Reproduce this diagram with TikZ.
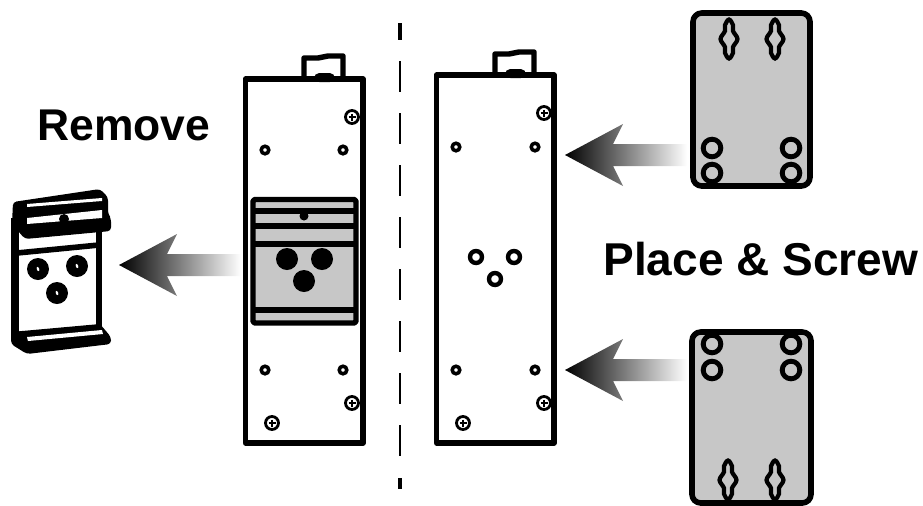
\documentclass[tikz,border=0pt]{standalone}
\usepackage{fontspec}
\setmainfont{Liberation Sans}
\definecolor{plategray}{gray}{0.78}
\tikzset{
  outline/.style={draw=black,line width=3.1pt,line join=round},
  plate/.style={outline,fill=plategray,rounded corners=5pt,line width=3.2pt},
  holemark/.style={draw=black,line width=2pt,fill=white},
  platehole/.style={draw=black,line width=2.8pt},
  slotline/.style={draw=black,line width=2.4pt},
  screwmark/.style={draw=black,line width=1.6pt},
  title/.style={font=\bfseries,inner sep=0pt,anchor=base west},
  divider/.style={draw=black,line width=1.7pt},
  fadearrow/.style={left color=black,middle color=black!82,right color=white,draw=none}
}
\newcommand{\fadingarrow}[2]{% tip x, tip y
  \path[fadearrow,shift={(#1,#2)}] (0,0) -- (58,-31) -- (48,-11) -- (122,-11) -- (122,11) -- (48,11) -- (58,31) -- cycle;
}
\begin{document}
\begin{tikzpicture}[x=0.02cm,y=-0.02cm]
    \useasboundingbox (0,0) rectangle (923,505);

    % Divider
    \draw[divider,line width=2.4pt] (400,23) -- (400,40);
    \foreach \y in {61,113,165,217,269,321,373,425} {
        \draw[divider] (400,\y) -- (400,\y+31);
    }
    \draw[divider,line width=2.4pt] (400,478) -- (400,489);

    % Clips on top of the devices
    \foreach \x/\y in {0/4, 191/0} {
        \draw[outline] (\x+304,\y+75) -- (\x+304,\y+54) -- (\x+318,\y+54) -- (\x+328,\y+52) -- (\x+343,\y+52) -- (\x+343,\y+75);
        \fill[rounded corners=3pt] (\x+314,\y+78) -- (\x+314,\y+69) -- (\x+335,\y+69) -- (\x+335,\y+78) -- cycle;
    }

    % Devices
    \draw[outline] (245.5,79) rectangle (363,443);
    \draw[outline] (436.5,75) rectangle (554,443);

    % Mounting holes
    \foreach \x/\y in {265/150, 343/150, 265/370, 343/370, 456/147, 535/147, 456/370, 535/370} {
        \draw[holemark] (\x,\y) circle (3.8);
    }

    % Screws
    \foreach \x/\y in {352/117, 352/403, 272/423, 544/113, 544/403, 463/423} {
        \draw[screwmark] (\x,\y) circle (6.5);
        \draw[screwmark] (\x-3.5,\y) -- (\x+3.5,\y) (\x,\y-3.5) -- (\x,\y+3.5);
    }

    % Rail on the left device
    \draw[outline,fill=plategray,line width=3.1pt,rounded corners=1pt] (253,199.5) rectangle (356,323);
    \foreach \y in {211,226,244,310} {
        \draw[line width=3pt] (253,\y) -- (356,\y);
    }
    \fill (304,216) circle (4.5);
    \foreach \x/\y in {287/259, 322/259, 304/281} {
        \fill (\x,\y) circle (11);
    }

    % Three holes on the right device
    \foreach \x/\y in {476/257, 514/257, 495/279} {
        \draw[line width=2.5pt] (\x,\y) circle (6);
    }

    % Removed rail
    \draw[outline,line width=4pt] (15,218) -- (15,340);
    \draw[outline,line width=3.2pt] (99,225) -- (99,328);
    \fill[rounded corners=2pt] (13,202) -- (100,189) -- (108,197) -- (108,214) -- (111,218) -- (111,231) -- (25,239) -- (12,224) -- cycle;
    \fill[white] (27,204) -- (102,198) -- (102,201) -- (27,207) -- cycle;
    \fill[white] (27,218) -- (102,210) -- (102,218) -- (27,224) -- cycle;
    \fill (64,219) circle (5);
    \draw[line width=3.2pt] (17,253) -- (99,245);
    \foreach \x/\y in {38/269, 77/266, 57/293} {
        \fill (\x,\y) circle (11);
        \fill[white,rotate around={20:(\x,\y)}] (\x,\y) ellipse (1.2 and 2.2);
    }
    \fill[rounded corners=2pt] (11,332) -- (100,324) -- (111,337) -- (111,344) -- (27,354) -- (11,344) -- cycle;
    \fill[white] (27,337) -- (102,330) -- (103,334) -- (28,341) -- cycle;

    % Plates
    \draw[plate] (693,13) rectangle (810,186);
    \draw[plate] (692,332) rectangle (811,503);
    \foreach \x/\y in {712/148, 712/173, 791/148, 791/173, 712/344, 712/370, 791/344, 791/370} {
        \draw[platehole] (\x,\y) circle (8.8);
    }
    \foreach \x/\y in {729/39, 775/39, 728/480, 775/480} {
        \draw[slotline,shift={(\x,\y)}] plot[smooth cycle,tension=0.6] coordinates {(-4,-14) (0,-19.5) (4,-14) (4,-8) (8.5,0) (4,8) (4,14) (0,19.5) (-4,14) (-4,8) (-8.5,0) (-4,-8)};
    }

    % Arrows
    \fadingarrow{119}{265}
    \fadingarrow{565}{155}
    \fadingarrow{565}{370}

    % Labels
    \node[title,font=\bfseries\fontsize{25.3}{30}\selectfont] (remove) at (37,140) {Remove};
    \node[title,font=\bfseries\fontsize{26.2}{30}\selectfont] (place) at (603,275) {Place \& Screw};
\end{tikzpicture}
\end{document}
